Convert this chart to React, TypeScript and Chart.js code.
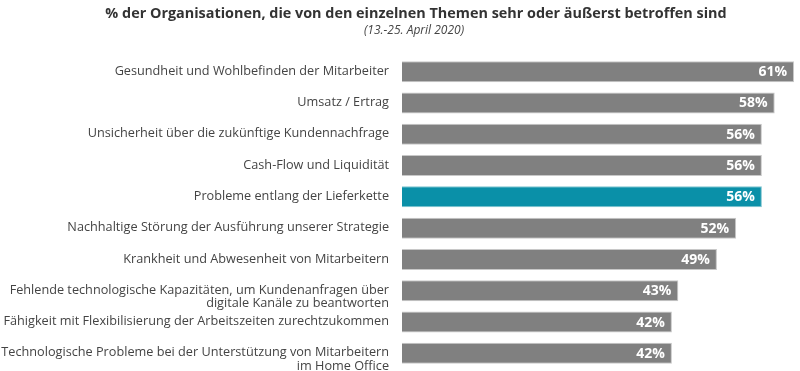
import React, { useEffect, useRef } from "react";
import { Chart, registerables } from "chart.js";

Chart.register(...registerables);

const categories: string[][] = [
  ["Gesundheit und Wohlbefinden der Mitarbeiter"],
  ["Umsatz / Ertrag"],
  ["Unsicherheit über die zukünftige Kundennachfrage"],
  ["Cash-Flow und Liquidität"],
  ["Probleme entlang der Lieferkette"],
  ["Nachhaltige Störung der Ausführung unserer Strategie"],
  ["Krankheit und Abwesenheit von Mitarbeitern"],
  ["Fehlende technologische Kapazitäten, um Kundenanfragen über", "digitale Kanäle zu beantworten"],
  ["Fähigkeit mit Flexibilisierung der Arbeitszeiten zurechtzukommen"],
  ["Technologische Probleme bei der Unterstützung von Mitarbeitern", "im Home Office"],
];

const values: number[] = [61, 58, 56, 56, 56, 52, 49, 43, 42, 42];
const highlightIndex = 4;

const titleText = "% der Organisationen, die von den einzelnen Themen sehr oder äußerst betroffen sind";
const subtitleText = "(13.-25. April 2020)";

const GRAY = "#808080";
const TEAL = "#0a90a8";

const titlePlugin = {
  id: "customTitle",
  afterDraw(chart: any) {
    const ctx = chart.ctx;
    ctx.save();
    ctx.textAlign = "center";
    ctx.textBaseline = "alphabetic";
    ctx.fillStyle = "#333333";
    ctx.font = "bold 14.4px 'Open Sans'";
    ctx.fillText(titleText, 416, 18);
    ctx.fillStyle = "#444444";
    ctx.font = "italic 12px 'Open Sans'";
    ctx.fillText(subtitleText, 414, 34);
    ctx.restore();
  },
};

const labelPlugin = {
  id: "customLabels",
  afterDatasetsDraw(chart: any) {
    const ctx = chart.ctx;
    const yScale = chart.scales.y;
    const meta = chart.getDatasetMeta(0);
    ctx.save();
    ctx.textAlign = "right";
    ctx.textBaseline = "middle";
    ctx.fillStyle = "#444444";
    ctx.font = "12.7px 'Open Sans'";
    const labelX = chart.chartArea.left - 13;
    categories.forEach((lines, i) => {
      const cy = yScale.getPixelForTick(i);
      lines.forEach((line, j) => {
        ctx.fillText(line, labelX, cy - 0.5 + j * 13.5);
      });
    });
    ctx.fillStyle = "#ffffff";
    ctx.font = "bold 14px 'Open Sans'";
    meta.data.forEach((bar: any, i: number) => {
      ctx.fillText(values[i] + "%", bar.x - 7, bar.y + 0.5);
    });
    ctx.restore();
  },
};

export default function App() {
  const canvasRef = useRef<HTMLCanvasElement | null>(null);

  useEffect(() => {
    document.body.style.margin = "0";
    const canvas = canvasRef.current;
    if (!canvas) return;
    const chart = new Chart(canvas, {
      type: "bar",
      data: {
        labels: categories.map((c) => c.join(" ")),
        datasets: [
          {
            data: values,
            backgroundColor: values.map((_, i) => (i === highlightIndex ? TEAL : GRAY)),
            borderColor: values.map((_, i) => (i === highlightIndex ? "#7fc4d0" : "#c8c8c8")),
            borderWidth: 1,
            categoryPercentage: 0.67,
            barPercentage: 1,
          },
        ],
      },
      options: {
        indexAxis: "y",
        animation: false,
        responsive: false,
        maintainAspectRatio: false,
        layout: { padding: { left: 402, right: 6, top: 56, bottom: 2 } },
        plugins: {
          legend: { display: false },
          title: { display: false },
          tooltip: { enabled: false },
        },
        scales: {
          x: { type: "linear", min: 0, max: 61, display: false },
          y: { type: "category", display: false },
        },
      },
      plugins: [titlePlugin, labelPlugin],
    });
    return () => chart.destroy();
  }, []);

  return (
    <div style={{ width: 800, height: 371 }}>
      <canvas ref={canvasRef} width={800} height={371} style={{ display: "block" }} />
    </div>
  );
}
